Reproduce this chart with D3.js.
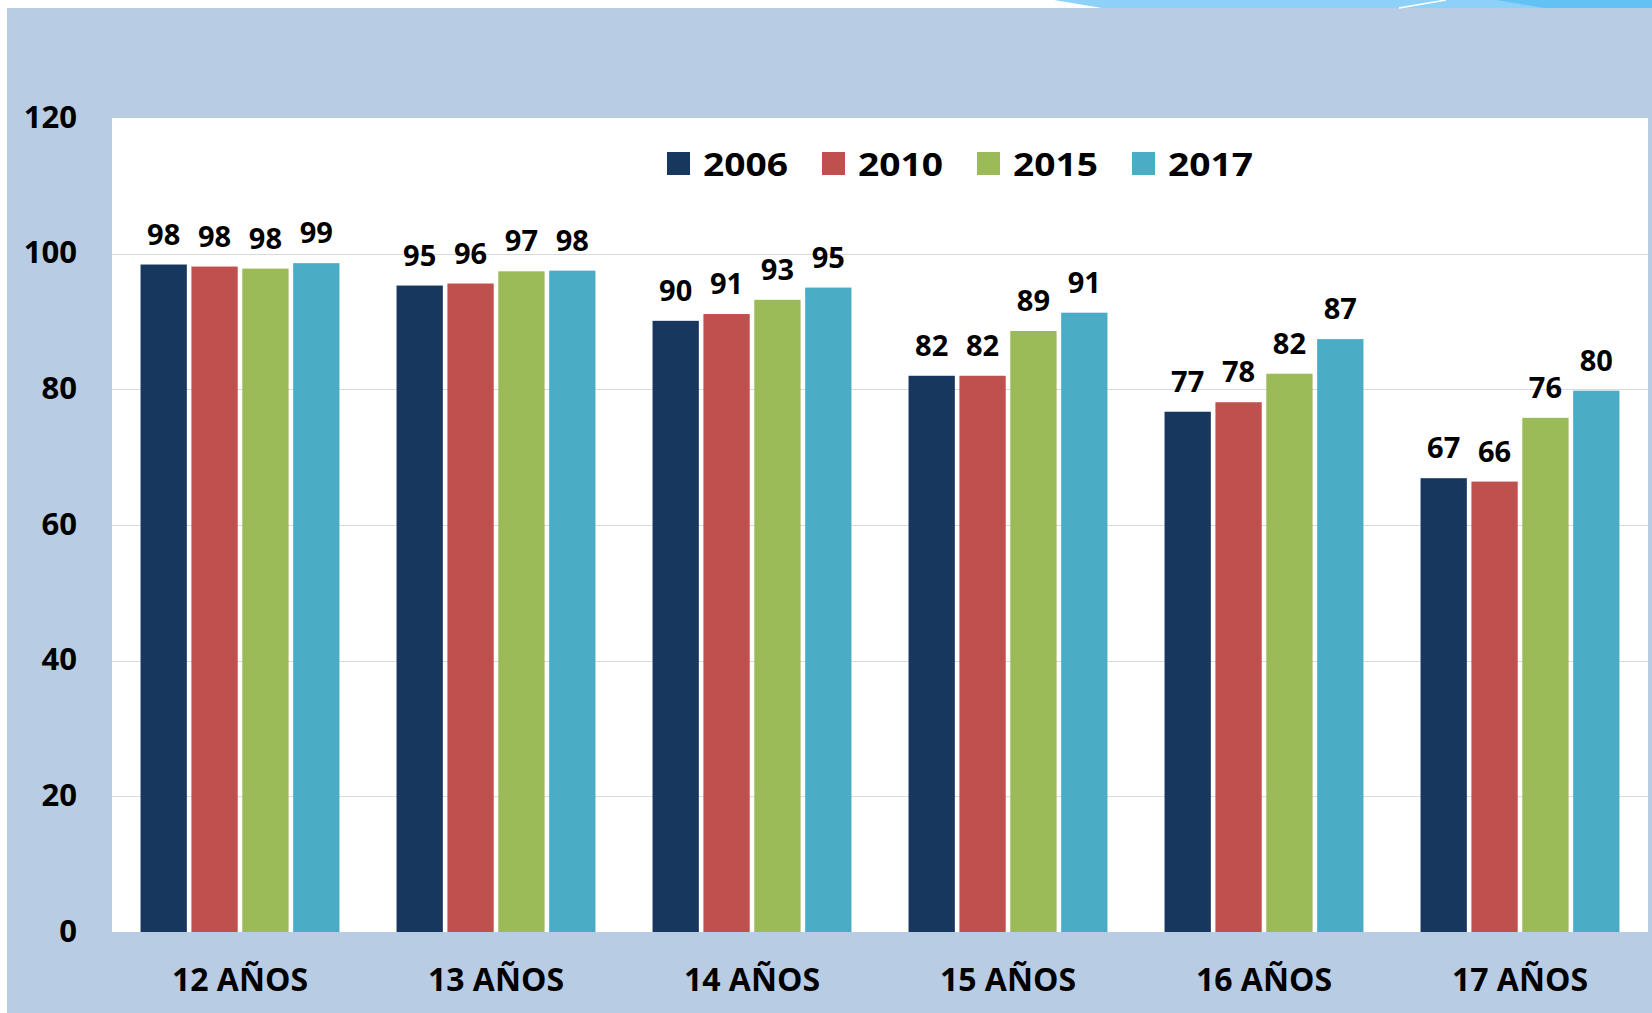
<!DOCTYPE html>
<html>
<head>
<meta charset="utf-8">
<script src="https://cdn.jsdelivr.net/npm/d3@7"></script>
<style>
  html, body { margin: 0; padding: 0; background: #ffffff; }
  svg { display: block; }
  text { font-family: "Open Sans", "DejaVu Sans", sans-serif; font-weight: 700; fill: #000; }
</style>
</head>
<body>
<div id="chart"></div>
<script>
var categories = ["12 AÑOS", "13 AÑOS", "14 AÑOS", "15 AÑOS", "16 AÑOS", "17 AÑOS"];
var years = ["2006", "2010", "2015", "2017"];
var values2006 = [98.4, 95.3, 90.1, 82.0, 76.7, 66.9];
var values2010 = [98.1, 95.6, 91.1, 82.0, 78.1, 66.4];
var values2015 = [97.8, 97.4, 93.2, 88.6, 82.3, 75.8];
var values2017 = [98.6, 97.5, 95.0, 91.3, 87.4, 79.8];
var yTicks = [0, 20, 40, 60, 80, 100, 120];
var colors = ["#17375e", "#c0504d", "#9bbb59", "#4bacc6"];

var width = 1652, height = 1013;
var plot = { left: 112, right: 1648, top: 118, bottom: 932 };

var series = [values2006, values2010, values2015, values2017];
var rows = categories.map(function(c, i){
    return { name: c, vals: years.map(function(y, j){ return { year: y, value: series[j][i] }; }) };
});

var svg = d3.select("#chart").append("svg")
    .attr("width", width)
    .attr("height", height);

// blue slide background
svg.append("rect")
    .attr("x", 7).attr("y", 8)
    .attr("width", width - 7).attr("height", height - 8)
    .attr("fill", "#b8cce4");

// little swoosh at the top right (slide theme)
svg.append("polygon")
    .attr("points", "1054,0 1652,0 1652,8 1102,8")
    .attr("fill", "#8dd0f8");
svg.append("polygon")
    .attr("points", "1497,0 1652,0 1652,8 1544,8")
    .attr("fill", "#63c2f4");
svg.append("line")
    .attr("x1", 1399).attr("y1", 8).attr("x2", 1446).attr("y2", 0)
    .attr("stroke", "#ffffff").attr("stroke-width", 1.5);

// white plot area
svg.append("rect")
    .attr("x", plot.left).attr("y", plot.top)
    .attr("width", plot.right - plot.left).attr("height", plot.bottom - plot.top)
    .attr("fill", "#ffffff");

var y = d3.scaleLinear().domain([0, 120]).range([plot.bottom, plot.top]);

var x0 = d3.scaleBand()
    .domain(categories)
    .range([plot.left, plot.right])
    .paddingInner(0.223)
    .paddingOuter(0.1115);

var x1 = d3.scaleBand()
    .domain(years)
    .range([0, x0.bandwidth()])
    .paddingInner(0.09);

var color = d3.scaleOrdinal().domain(years).range(colors);

// gridlines
svg.append("g").selectAll("line")
    .data(yTicks.filter(function(t){ return t > 0 && t < 120; }))
    .enter().append("line")
    .attr("x1", plot.left).attr("x2", plot.right)
    .attr("y1", function(d){ return Math.round(y(d)) + 0.5; })
    .attr("y2", function(d){ return Math.round(y(d)) + 0.5; })
    .attr("stroke", "#d9d9d9")
    .attr("stroke-width", 1);

// y axis labels
var yAxis = d3.axisLeft(y).tickValues(yTicks).tickSize(0).tickPadding(0);
var yg = svg.append("g")
    .attr("transform", "translate(77,0)")
    .call(yAxis);
yg.select(".domain").remove();
yg.selectAll("text")
    .attr("font-size", 31)
    .attr("font-family", null)
    .attr("dy", "0.3em")
    .attr("text-anchor", "end");

// bars
var groups = svg.append("g").selectAll("g")
    .data(rows)
    .enter().append("g")
    .attr("transform", function(d){ return "translate(" + x0(d.name) + ",0)"; });

groups.selectAll("rect")
    .data(function(d){ return d.vals; })
    .enter().append("rect")
    .attr("x", function(d){ return x1(d.year); })
    .attr("y", function(d){ return y(d.value); })
    .attr("width", x1.bandwidth())
    .attr("height", function(d){ return y(0) - y(d.value); })
    .attr("fill", function(d){ return color(d.year); });

groups.selectAll("text")
    .data(function(d){ return d.vals; })
    .enter().append("text")
    .attr("x", function(d){ return x1(d.year) + x1.bandwidth() / 2; })
    .attr("y", function(d){ return y(d.value) - 20; })
    .attr("text-anchor", "middle")
    .attr("font-size", 29)
    .text(function(d){ return Math.round(d.value); });

// category labels
var xAxis = d3.axisBottom(x0).tickSize(0).tickPadding(0);
var xg = svg.append("g")
    .attr("transform", "translate(0,991)")
    .call(xAxis);
xg.select(".domain").remove();
xg.selectAll("text")
    .attr("font-size", 32)
    .attr("font-family", null)
    .attr("dy", 0)
    .attr("text-anchor", "middle");

// legend
var legend = svg.append("g").selectAll("g")
    .data(years)
    .enter().append("g")
    .attr("transform", function(d, i){ return "translate(" + (667 + i * 155) + ",152)"; });

legend.append("rect")
    .attr("width", 23).attr("height", 23)
    .attr("fill", function(d){ return color(d); });

legend.append("text")
    .attr("x", 36)
    .attr("y", 24)
    .attr("font-size", 32)
    .attr("textLength", 85)
    .attr("lengthAdjust", "spacingAndGlyphs")
    .text(function(d){ return d; });
</script>
</body>
</html>
